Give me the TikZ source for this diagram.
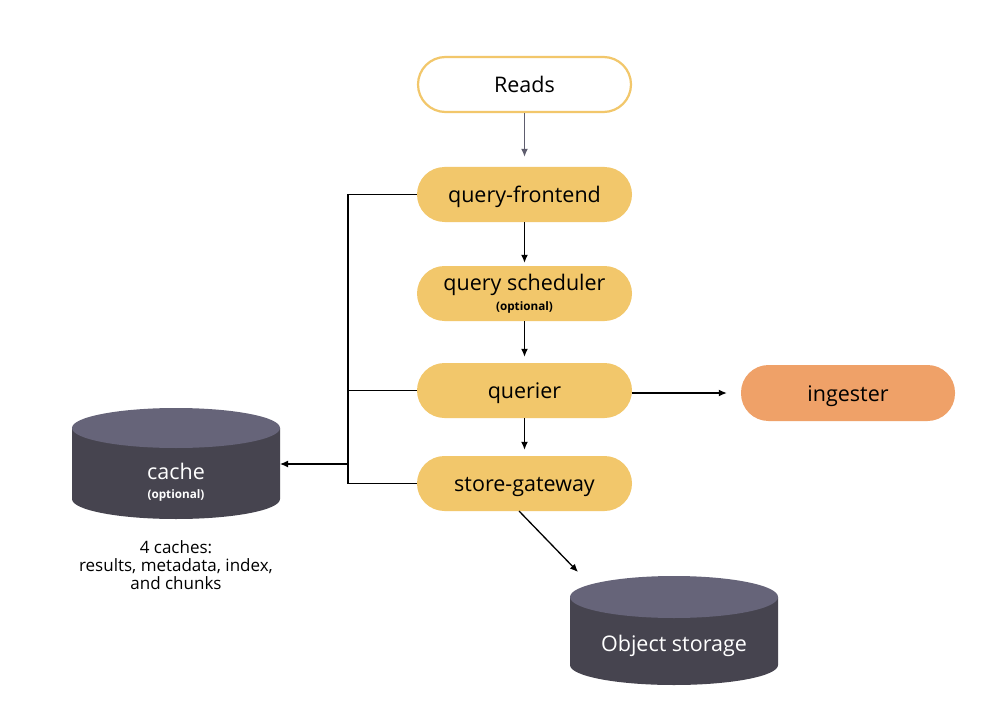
\documentclass[tikz,border=0pt]{standalone}
\usepackage{fontspec}
\setmainfont{Open Sans}
\usetikzlibrary{arrows.meta}
\definecolor{pillyellow}{HTML}{F2C76B}
\definecolor{pillorange}{HTML}{EFA168}
\definecolor{cyltop}{HTML}{666479}
\definecolor{cylbody}{HTML}{46444F}
\definecolor{grayarrow}{HTML}{5E5D6E}
\tikzset{
  mainfont/.style={font=\fontsize{21.5}{24}\selectfont},
  pill/.style={rectangle, rounded corners=27.5pt, minimum width=215pt, minimum height=55pt,
    inner sep=0pt, align=center, mainfont, text=black, text height=16pt, text depth=0pt},
  yellowpill/.style={pill, fill=pillyellow},
  orangepill/.style={pill, fill=pillorange},
  readspill/.style={pill, fill=white, draw=pillyellow, line width=2.2pt, minimum height=55pt, minimum width=213pt},
  conn/.style={line width=1.3pt, black},
  arr/.style={conn, -{Latex[length=8pt,width=7pt]}},
  grayarr/.style={line width=1.3pt, grayarrow, -{Latex[length=8pt,width=7pt]}},
  cyllabel/.style={text=white, align=center, mainfont},
  smallopt/.style={font=\fontsize{11.7}{13}\selectfont\bfseries},
  note/.style={align=center, font=\fontsize{17}{18}\selectfont}
}
\begin{document}
\begin{tikzpicture}[x=1pt,y=-1pt]
\useasboundingbox (0,0) rectangle (982,714);
\fill[white] (0,0) rectangle (982,714);

% cylinders
\fill[cylbody] (72,428) -- (72,499) arc[start angle=180,end angle=0,x radius=104,y radius=20] -- (280,428) -- cycle;
\fill[cyltop] (176,428) ellipse[x radius=104,y radius=20];
\fill[cylbody] (570,597) -- (570,665) arc[start angle=180,end angle=0,x radius=104,y radius=20] -- (778,597) -- cycle;
\fill[cyltop] (674,597) ellipse[x radius=104,y radius=21];

\node[cyllabel] (cache) at (176,471) {cache};
\node[text=white, smallopt] (cacheopt) at (176,495) {(optional)};
\node[note] (cachenote) at (176,565) {4 caches:\\results, metadata, index,\\and chunks};
\node[cyllabel] (objstore) at (674,646) {Object storage};

% pills
\node[readspill] (reads) at (524.5,84.5) {Reads};
\node[yellowpill] (frontend) at (524.5,194.5) {query-frontend};
\node[yellowpill] (scheduler) at (524.5,293.5) {};
\node[mainfont] (schedtext) at (524.5,285) {query scheduler};
\node[smallopt] (schedopt) at (524.5,307) {(optional)};
\node[yellowpill] (querier) at (524.5,390.5) {querier};
\node[yellowpill] (store) at (524.5,483.5) {store-gateway};
\node[orangepill, minimum width=214pt, minimum height=56pt] (ingester) at (848,393) {ingester};

% coordinates
\coordinate (bustop) at (348,194.5);
\coordinate (busbot) at (348,483.5);
\coordinate (cacheR) at (280,464);
\coordinate (objtip) at (578,572);
\coordinate (storeout) at (519,511);

% connectors
\draw[grayarr] (reads.south) -- ([yshift=10pt]frontend.north);
\draw[arr] (frontend.south) -- ([yshift=3pt]scheduler.north);
\draw[arr] (scheduler.south) -- ([yshift=6pt]querier.north);
\draw[arr] (querier.south) -- ([yshift=6pt]store.north);
\draw[arr] ([yshift=-2.5pt]querier.east) -- ([xshift=-14pt]ingester.west);
\draw[arr] (storeout) -- (objtip);
\draw[conn] (frontend.west) -- (bustop) -- (busbot) -- (store.west);
\draw[conn] (querier.west) -- (querier.west -| bustop);
\draw[arr] (cacheR -| bustop) -- (cacheR);
\end{tikzpicture}
\end{document}
